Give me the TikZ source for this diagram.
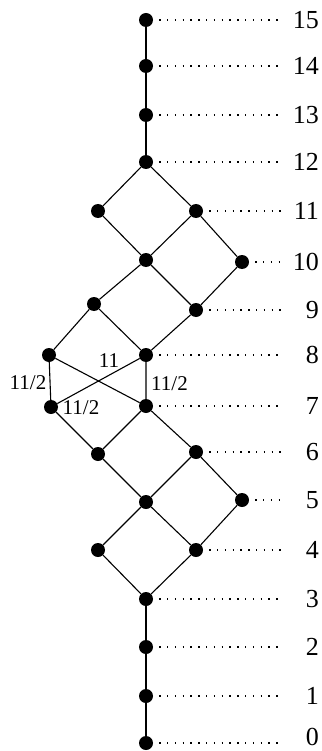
\documentclass[tikz,border=0pt]{standalone}
\usepackage{fontspec}
\setmainfont{Liberation Serif}
\begin{document}
\begin{tikzpicture}[x=1pt,y=-1pt,
  dot/.style={circle,fill=black,inner sep=0pt,minimum size=14pt},
  edge/.style={line width=1.1pt},
  guide/.style={line width=1.5pt,dash pattern=on 1.4pt off 6.4pt,shorten <=6pt,shorten >=7pt},
  lvl/.style={anchor=east,inner sep=0pt,text width=28pt,align=right,font=\fontsize{26}{26}\selectfont},
  elab/.style={inner sep=0pt,font=\fontsize{21}{21}\selectfont}]
\useasboundingbox (0,0) rectangle (321,751);
% nodes
\node[dot] (n15) at (146,20) {};
\node[dot] (n14) at (146,66) {};
\node[dot] (n13) at (146,115) {};
\node[dot] (n12) at (146,162) {};
\node[dot] (a11) at (98,211) {};
\node[dot] (n11) at (196,211) {};
\node[dot] (a10) at (146,260) {};
\node[dot] (n10) at (242,262) {};
\node[dot] (a9) at (94,304) {};
\node[dot] (n9) at (196,310) {};
\node[dot] (a8) at (49,355) {};
\node[dot] (n8) at (146,355) {};
\node[dot] (a7) at (51,407) {};
\node[dot] (n7) at (146,406) {};
\node[dot] (a6) at (98,454) {};
\node[dot] (n6) at (196,452) {};
\node[dot] (a5) at (146,502) {};
\node[dot] (n5) at (242,500) {};
\node[dot] (a4) at (98,550) {};
\node[dot] (n4) at (196,550) {};
\node[dot] (n3) at (146,599) {};
\node[dot] (n2) at (146,647) {};
\node[dot] (n1) at (146,696) {};
\node[dot] (n0) at (146,743) {};
% level labels
\node[lvl] (l15) at (319,20) {15};
\node[lvl] (l14) at (319,66) {14};
\node[lvl] (l13) at (319,115) {13};
\node[lvl] (l12) at (319,162) {12};
\node[lvl] (l11) at (319,211) {11};
\node[lvl] (l10) at (319,262) {10};
\node[lvl] (l9) at (319,310) {9};
\node[lvl] (l8) at (319,355) {8};
\node[lvl] (l7) at (319,406) {7};
\node[lvl] (l6) at (319,452) {6};
\node[lvl] (l5) at (319,500) {5};
\node[lvl] (l4) at (319,550) {4};
\node[lvl] (l3) at (319,599) {3};
\node[lvl] (l2) at (319,647) {2};
\node[lvl] (l1) at (319,696) {1};
\node[lvl] (l0) at (319,737) {0};
% edges
\draw[edge] (n15) -- (n14) -- (n13) -- (n12);
\draw[edge] (n12) -- (a11) (n12) -- (n11);
\draw[edge] (a11) -- (a10) (n11) -- (a10) (n11) -- (n10);
\draw[edge] (a10) -- (a9) (a10) -- (n9) (n10) -- (n9);
\draw[edge] (a9) -- (a8) (a9) -- (n8) (n9) -- (n8);
\draw[edge] (a8) -- (a7) (a8) -- (n7) (a7) -- (n8) (n8) -- (n7);
\draw[edge] (a7) -- (a6) (n7) -- (a6) (n7) -- (n6);
\draw[edge] (a6) -- (a5) (n6) -- (a5) (n6) -- (n5);
\draw[edge] (a5) -- (a4) (a5) -- (n4) (n5) -- (n4);
\draw[edge] (a4) -- (n3) (n4) -- (n3);
\draw[edge] (n3) -- (n2) -- (n1) -- (n0);
% dotted guides
\foreach \i in {15,14,13,12,11,10,9,8,7,6,5,4,3,2,1}
  \draw[guide] (n\i) -- (l\i);
\draw[guide] (n0) -- (l0.west |- n0);
% edge labels
\node[elab] (e1) at (28,383) {11/2};
\node[elab] (e2) at (109,361) {11};
\node[elab] (e3) at (81,408) {11/2};
\node[elab,anchor=west] (e4) at (151,384) {11/2};
\end{tikzpicture}
\end{document}
